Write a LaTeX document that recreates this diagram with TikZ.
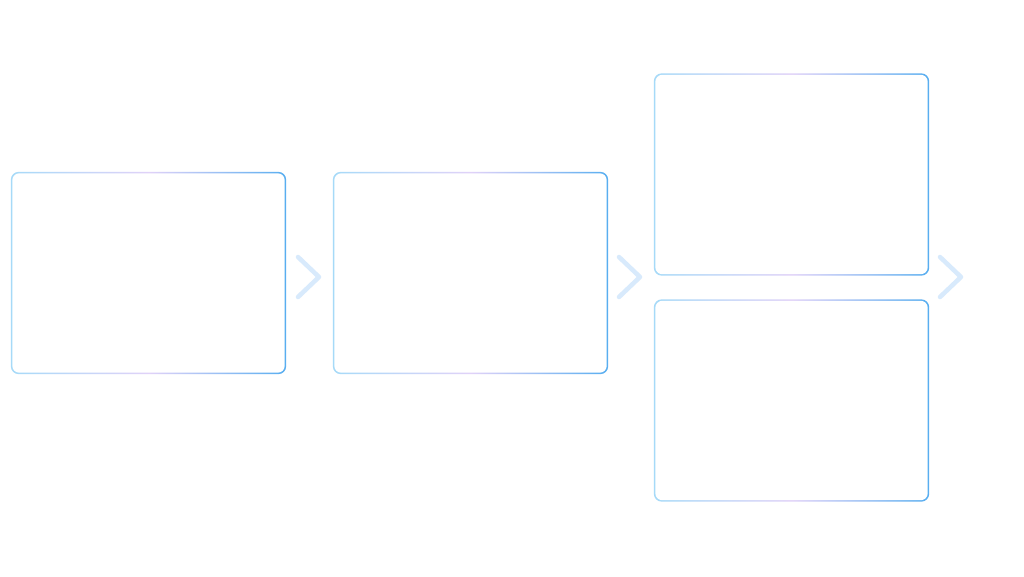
\documentclass[tikz,border=0pt]{standalone}
\usepackage{fontspec}
\setmainfont{Liberation Sans}
\definecolor{edgeL}{HTML}{A6DAF8}
\definecolor{edgeM}{HTML}{E0D2F8}
\definecolor{edgeR}{HTML}{58AEF0}
\definecolor{chev}{HTML}{D8EAFC}
\tikzset{
  x=1pt,y=-1pt,
  stagebox/.style={minimum width=275pt,minimum height=202pt,inner sep=0pt,
    text=white,font=\bfseries\fontsize{26}{31}\selectfont,align=center},
  chevline/.style={draw=chev,line width=4.5pt,line cap=round,line join=round},
}
\newcommand{\gradbox}[1]{%
  \shade[left color=edgeL,right color=edgeR,middle color=edgeM,rounded corners=8pt]
    (#1.south west) rectangle (#1.north east);
  \fill[white,rounded corners=7pt]
    ([xshift=1.5pt,yshift=1.5pt]#1.south west) rectangle ([xshift=-1.5pt,yshift=-1.5pt]#1.north east);
}
\begin{document}
\begin{tikzpicture}
\useasboundingbox (0,0) rectangle (1024,576);
\fill[white] (0,0) rectangle (1024,576);
% box positions
\coordinate (p1) at (148.5,273);
\coordinate (p2) at (470.5,273);
\coordinate (p3) at (791.5,174.5);
\coordinate (p4) at (791.5,400.5);
\node[stagebox] (b1) at (p1) {};
\node[stagebox] (b2) at (p2) {};
\node[stagebox] (b3) at (p3) {};
\node[stagebox] (b4) at (p4) {};
\gradbox{b1}
\gradbox{b2}
\gradbox{b3}
\gradbox{b4}
\node[stagebox] (t1) at (p1) {Rising Digital\\Learning Demand};
\node[stagebox] (t2) at (p2) {Platform \&\\Tool Adoption};
\node[stagebox] (t3) at (p3) {Faster\\Feedback};
\node[stagebox] (t4) at (p4) {Improved Student\\Learning};
% chevrons
\coordinate (c1) at (309,277);
\coordinate (c2) at (630,277);
\coordinate (c3) at (951,277);
\foreach \c in {c1,c2,c3}{
  \draw[chevline] ([xshift=-11pt,yshift=-20pt]\c) -- ([xshift=10pt]\c) -- ([xshift=-11pt,yshift=20pt]\c);
}
\end{tikzpicture}
\end{document}
